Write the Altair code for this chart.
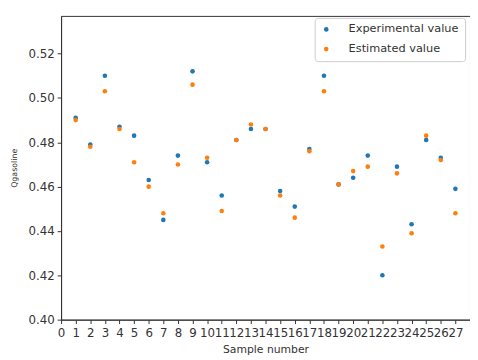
import altair as alt
import pandas as pd

samples = list(range(1, 28))
experimental = [0.491, 0.479, 0.510, 0.487, 0.483, 0.463, 0.445, 0.474, 0.512, 0.471,
                0.456, 0.481, 0.486, 0.486, 0.458, 0.451, 0.477, 0.510, 0.461, 0.464,
                0.474, 0.420, 0.469, 0.443, 0.481, 0.473, 0.459]
estimated = [0.490, 0.478, 0.503, 0.486, 0.471, 0.460, 0.448, 0.470, 0.506, 0.473,
             0.449, 0.481, 0.488, 0.486, 0.456, 0.446, 0.476, 0.503, 0.461, 0.467,
             0.469, 0.433, 0.466, 0.439, 0.483, 0.472, 0.448]
series_names = ["Experimental value", "Estimated value"]
x_ticks = list(range(0, 28))
y_ticks = [0.40, 0.42, 0.44, 0.46, 0.48, 0.50, 0.52]

rows = []
for i, s in enumerate(samples):
    rows.append({"sample": s, "value": experimental[i], "series": series_names[0], "order": 0})
for i, s in enumerate(samples):
    rows.append({"sample": s, "value": estimated[i], "series": series_names[1], "order": 1})
df = pd.DataFrame(rows)

chart = alt.Chart(df).mark_circle(size=22, opacity=1).encode(
    x=alt.X("sample:Q", title="Sample number",
            scale=alt.Scale(domain=[0, 28], nice=False),
            axis=alt.Axis(values=x_ticks, labelFlush=False, labelOverlap=False, grid=False,
                          labelFontSize=12, titleFontSize=11, tickSize=4,
                          labelPadding=4, titlePadding=5)),
    y=alt.Y("value:Q", title="Qgasoline",
            scale=alt.Scale(domain=[0.40, 0.537], nice=False, zero=False),
            axis=alt.Axis(values=y_ticks, format=".2f", grid=False, labelOverlap=False,
                          labelFontSize=12, titleFontSize=8, tickSize=4,
                          labelPadding=3, titlePadding=10)),
    color=alt.Color("series:N", sort=series_names,
                    scale=alt.Scale(domain=series_names, range=["#1f77b4", "#ff7f0e"]),
                    legend=alt.Legend(title=None, orient="none", legendX=258, legendY=2,
                                      labelFontSize=11.5, symbolSize=22,
                                      symbolType="circle",
                                      strokeColor="#cccccc", padding=6,
                                      cornerRadius=3, fillColor="white",
                                      rowPadding=7, labelOffset=17)),
    order=alt.Order("order:Q"),
).properties(
    width=416, height=309,
    autosize=alt.AutoSizeParams(type="none"),
    padding={"left": 54, "top": 5, "right": 0, "bottom": 38},
).configure_view(
    stroke="#333333", strokeWidth=1
).configure_axis(
    domainColor="#333333", tickColor="#333333", labelColor="#333333",
    titleColor="#333333", labelFont="DejaVu Sans", titleFont="DejaVu Sans",
    titleFontWeight="normal"
).configure_legend(
    labelFont="DejaVu Sans", labelColor="#333333"
)

chart.save("out.html", embed_options={"renderer": "svg", "actions": False})
